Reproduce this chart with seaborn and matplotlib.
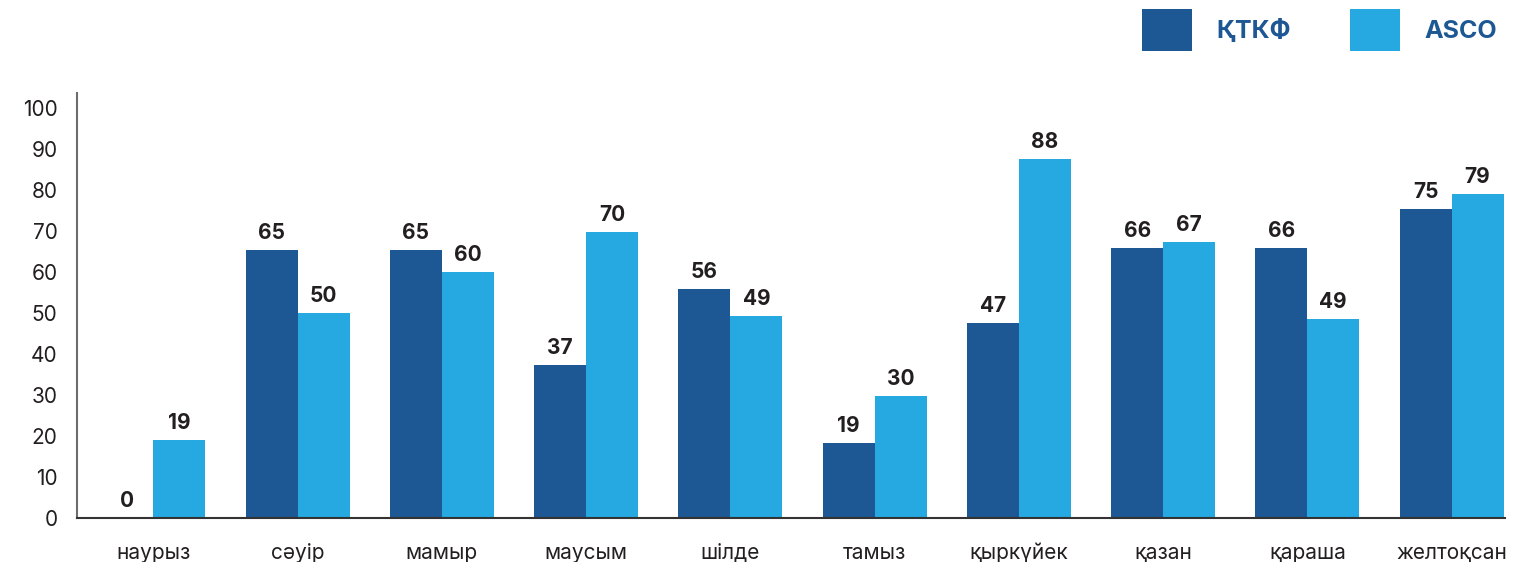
import pandas as pd
import matplotlib.pyplot as plt
import seaborn as sns
from matplotlib.patches import Patch

months = ["наурыз", "сәуір", "мамыр", "маусым", "шілде", "тамыз",
          "қыркүйек", "қазан", "қараша", "желтоқсан"]
series_names = ["ҚТКФ", "ASCO"]
ktkf = [0, 65.4, 65.4, 37.3, 55.9, 18.4, 47.6, 65.9, 65.9, 75.4]
asco = [19.0, 50.0, 60.0, 69.8, 49.3, 29.8, 87.6, 67.3, 48.6, 79.0]
ktkf_labels = [0, 65, 65, 37, 56, 19, 47, 66, 66, 75]
asco_labels = [19, 50, 60, 70, 49, 30, 88, 67, 49, 79]
colors = ["#1e5894", "#25a9e0"]

df = pd.DataFrame({
    "month": months * 2,
    "series": [series_names[0]] * len(months) + [series_names[1]] * len(months),
    "value": ktkf + asco,
})

sns.set_theme(style="white")
plt.rcParams["font.family"] = ["Inter", "DejaVu Sans"]

fig = plt.figure(figsize=(15.33, 5.62), dpi=100)
ax = fig.add_axes([0.0502, 0.0783, 0.9315, 0.7562])

sns.barplot(data=df, x="month", y="value", hue="series", palette=colors,
            width=0.72, gap=0, saturation=1, linewidth=0, legend=False, ax=ax)

for cont, labs in zip(ax.containers, [ktkf_labels, asco_labels]):
    ax.bar_label(cont, labels=[str(v) for v in labs], padding=5,
                 fontsize=15, fontweight="bold", color="#231f20")

ax.set_ylim(0, 103.7)
ax.set_xlim(-0.53, 9.37)
ax.set_yticks(range(0, 101, 10))
ax.set_xlabel("")
ax.set_ylabel("")
ax.tick_params(axis="y", labelsize=15, labelcolor="#231f20", pad=14, length=0)
ax.tick_params(axis="x", labelsize=15, labelcolor="#231f20", pad=18, length=0)
for s in ["top", "right"]:
    ax.spines[s].set_visible(False)
ax.spines["left"].set_color("#6d6d6d")
ax.spines["left"].set_linewidth(1.5)
ax.spines["bottom"].set_color("#333333")
ax.spines["bottom"].set_linewidth(1.5)

handles = [Patch(facecolor=c, edgecolor="none") for c in colors]
leg = fig.legend(handles, series_names, loc="upper right", ncol=2,
                 bbox_to_anchor=(1497 / 1533, 1 - 9 / 562), frameon=False,
                 borderpad=0, borderaxespad=0,
                 handlelength=2.0, handleheight=2.2, handletextpad=0.96,
                 columnspacing=2.4, prop={"size": 18, "weight": "bold"})
for t in leg.get_texts():
    t.set_color("#1e5894")

fig.savefig("out.png", dpi=100)
